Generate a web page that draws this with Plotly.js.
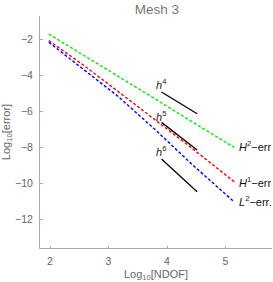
<!DOCTYPE html>
<html><head><meta charset="utf-8">
<script src="https://cdn.plot.ly/plotly-3.0.1.min.js"></script>
<style>html,body{margin:0;padding:0;background:#fff}#c{width:273px;height:282px}</style>
</head><body><div id="c"></div>
<script>
// log10 NDOF
const ndof = [1.98, 2.56, 3.16, 3.78, 4.44, 5.15];
// log10 errors
const errH2 = [-1.72, -2.86, -4.07, -5.29, -6.62, -8.02];
const errH1 = [-2.09, -3.42, -4.90, -6.45, -8.10, -9.93];
const errL2 = [-2.18, -3.65, -5.18, -6.98, -9.00, -11.05];
// reference slope lines
const refX = [3.906, 4.515];
const refH4 = [-4.94, -6.15];
const refH5 = [-6.63, -8.17];
const refH6 = [-8.67, -10.48];
const refLabels = ['<i>h</i><sup>4</sup>', '<i>h</i><sup>5</sup>', '<i>h</i><sup>6</sup>'];
const refLabelY = [-4.5, -6.28, -8.22];
const seriesLabels = ['<i>H</i><sup>2</sup>\u2212err', '<i>H</i><sup>1</sup>\u2212err', '<i>L</i><sup>2</sup>\u2212err.'];
const seriesLabelY = [-7.94, -9.96, -11.0];

const dash = '3px,2px';
const traces = [
  {x: ndof, y: errH2, mode: 'lines', line: {color: '#00ee00', width: 1.4, dash: dash}},
  {x: ndof, y: errH1, mode: 'lines', line: {color: '#ff0000', width: 1.4, dash: dash}},
  {x: ndof, y: errL2, mode: 'lines', line: {color: '#0000ff', width: 1.4, dash: dash}},
  {x: refX, y: refH4, mode: 'lines', line: {color: '#000', width: 1.3}},
  {x: refX, y: refH5, mode: 'lines', line: {color: '#000', width: 1.3}},
  {x: refX, y: refH6, mode: 'lines', line: {color: '#000', width: 1.3}}
];
const font = 'Liberation Sans, Arial, sans-serif';
const ann = [];
refLabels.forEach((t, i) => ann.push({x: 3.9, y: refLabelY[i], xref: 'x', yref: 'y', text: t, showarrow: false,
  font: {family: font, size: 11, color: '#222'}, xanchor: 'center', yanchor: 'middle'}));
seriesLabels.forEach((t, i) => ann.push({x: 5.197, y: seriesLabelY[i], xref: 'x', yref: 'y', text: t, showarrow: false,
  font: {family: font, size: 11, color: '#111'}, xanchor: 'left', yanchor: 'middle'}));
const layout = {
  width: 273, height: 282,
  margin: {l: 40, r: 1, t: 16, b: 34},
  showlegend: false,
  paper_bgcolor: '#fff', plot_bgcolor: '#fff',
  font: {family: font, color: '#666'},
  title: {text: 'Mesh 3', font: {family: font, size: 13.5, color: '#777'}, x: 0.575, xanchor: 'center', y: 0.985, yanchor: 'top'},
  xaxis: {range: [1.829, 5.795], showgrid: false, zeroline: false, showline: true, linecolor: '#aaa', linewidth: 1,
    ticks: 'inside', ticklen: 2.5, tickcolor: '#aaa', tickvals: [2, 3, 4, 5], ticktext: ['2', '3', '4', '5'],
    tickfont: {family: font, size: 10.5, color: '#666'}, ticklabelstandoff: 3,
    title: {text: 'Log<sub>10</sub>[NDOF]', font: {family: font, size: 11, color: '#666'}, standoff: 9}},
  yaxis: {range: [-13.61, -0.72], showgrid: false, zeroline: false, showline: true, linecolor: '#aaa', linewidth: 1,
    ticks: 'inside', ticklen: 2.5, tickcolor: '#aaa', tickvals: [-2, -4, -6, -8, -10, -12],
    ticktext: ['\u22122', '\u22124', '\u22126', '\u22128', '\u221210', '\u221212'],
    tickfont: {family: font, size: 10.5, color: '#666'}, ticklabelstandoff: 4,
    title: {text: 'Log<sub>10</sub>[error]', font: {family: font, size: 11, color: '#666'}, standoff: 4}},
  annotations: ann
};
Plotly.newPlot('c', traces, layout, {staticPlot: true, displayModeBar: false});
</script></body></html>
